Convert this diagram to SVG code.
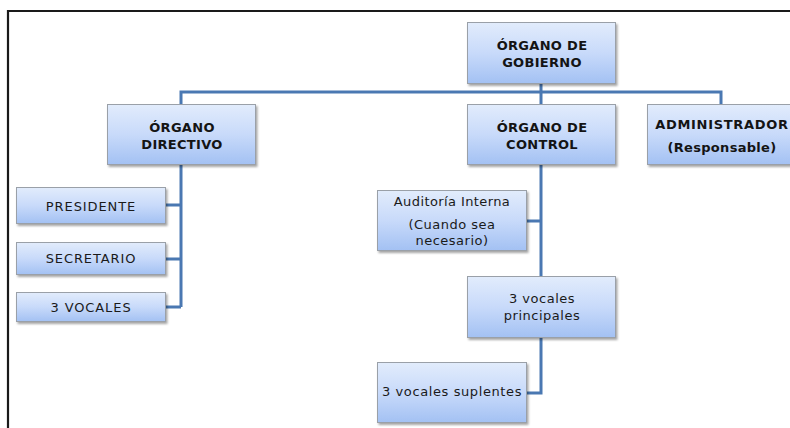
<svg xmlns="http://www.w3.org/2000/svg" width="790" height="428" viewBox="0 0 790 428">
<defs>
<linearGradient id="g" x1="0" y1="0" x2="0" y2="1">
<stop offset="0" stop-color="#e2ecfc"/>
<stop offset="0.5" stop-color="#c8dafa"/>
<stop offset="1" stop-color="#a3c1f3"/>
</linearGradient>
<filter id="sh" x="-10%" y="-10%" width="130%" height="140%">
<feDropShadow dx="1.5" dy="2" stdDeviation="1.2" flood-color="#000" flood-opacity="0.35"/>
</filter>
</defs>
<style>
.box{fill:url(#g);stroke:#9aa0a8;stroke-width:1;filter:url(#sh)}
.b{font-family:"DejaVu Sans","Liberation Sans",sans-serif;font-size:13px;font-weight:bold;fill:#141414;text-anchor:middle;letter-spacing:0.3px}
.r{font-family:"DejaVu Sans","Liberation Sans",sans-serif;font-size:13px;fill:#1a1a1a;text-anchor:middle;letter-spacing:0.5px}
.ru{font-family:"DejaVu Sans","Liberation Sans",sans-serif;font-size:13px;fill:#1a1a1a;text-anchor:middle;letter-spacing:0.9px}
.c{fill:none;stroke:#4a78b2;stroke-width:3;stroke-linejoin:miter}
</style>
<rect width="790" height="428" fill="#ffffff"/>
<path d="M8 428 V11 H790" fill="none" stroke="#1a1a1a" stroke-width="2.2"/>
<g id="connectors">
<path class="c" d="M541 84 V92 M181 104 V92 H721 V104 M541 92 V104"/>
<path class="c" d="M181 164 V307 M166 205 H181 M166 259 H181 M166 307 H181"/>
<path class="c" d="M541 164 V277 M527 221 H541 M541 337 V393 H527"/>
</g>
<g id="organo-gobierno">
<rect class="box" x="467.5" y="22.5" width="148" height="61"/>
<text class="b"><tspan x="542" y="50">ÓRGANO DE</tspan><tspan x="542" y="67">GOBIERNO</tspan></text>
</g>
<g id="organo-directivo">
<rect class="box" x="107.5" y="104.5" width="148" height="60"/>
<text class="b"><tspan x="182" y="132">ÓRGANO</tspan><tspan x="182" y="148.5">DIRECTIVO</tspan></text>
</g>
<g id="organo-control">
<rect class="box" x="467.5" y="104.5" width="148" height="60"/>
<text class="b"><tspan x="542" y="132">ÓRGANO DE</tspan><tspan x="542" y="148.5">CONTROL</tspan></text>
</g>
<g id="administrador">
<rect class="box" x="647.5" y="104.5" width="148" height="60"/>
<text class="b" x="722" y="128.5" style="letter-spacing:0.7px">ADMINISTRADOR</text>
<text class="b" x="722" y="151.5">(Responsable)</text>
</g>
<g id="presidente">
<rect class="box" x="16.5" y="187.5" width="149" height="36"/>
<text class="ru" x="91" y="210.5">PRESIDENTE</text>
</g>
<g id="secretario">
<rect class="box" x="16.5" y="242.5" width="149" height="32"/>
<text class="ru" x="91" y="263">SECRETARIO</text>
</g>
<g id="vocales">
<rect class="box" x="16.5" y="292.5" width="149" height="29"/>
<text class="ru" x="91" y="311.5">3 VOCALES</text>
</g>
<g id="auditoria">
<rect class="box" x="377.5" y="190.5" width="149" height="60"/>
<text class="r" x="452" y="206" style="letter-spacing:0.4px">Auditoría Interna</text>
<text class="r"><tspan x="452" y="229">(Cuando sea</tspan><tspan x="452" y="245">necesario)</tspan></text>
</g>
<g id="vocales-principales">
<rect class="box" x="467.5" y="276.5" width="148" height="61"/>
<text class="r"><tspan x="542" y="303">3 vocales</tspan><tspan x="542" y="319.5">principales</tspan></text>
</g>
<g id="vocales-suplentes">
<rect class="box" x="377.5" y="362.5" width="149" height="60"/>
<text class="r" x="452" y="396" style="letter-spacing:0.6px">3 vocales suplentes</text>
</g>
</svg>
